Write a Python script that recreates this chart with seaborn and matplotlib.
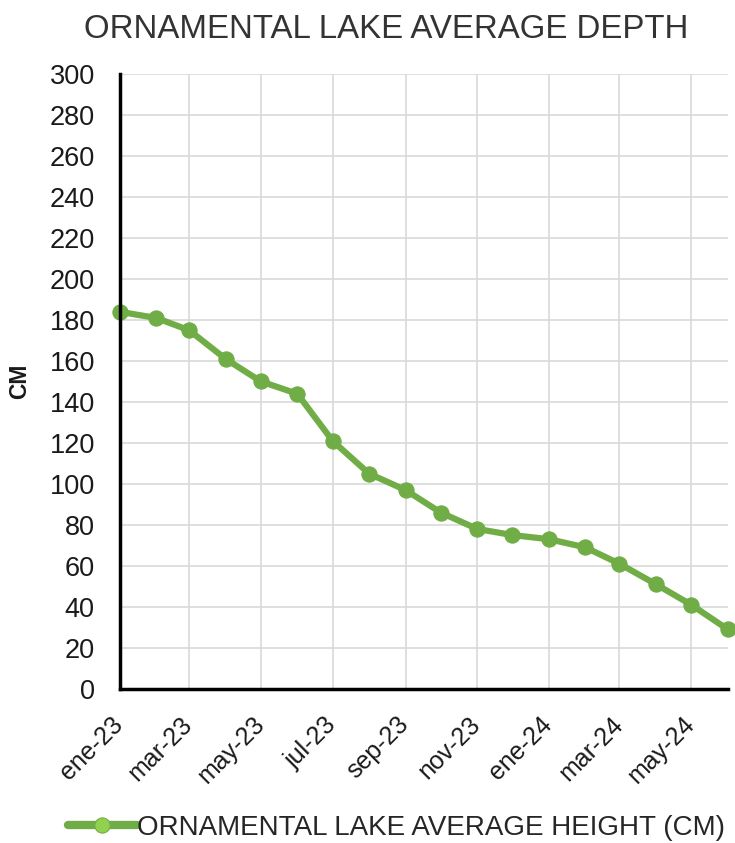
import pandas as pd
import seaborn as sns
import matplotlib.pyplot as plt
import matplotlib.transforms as mtransforms

# monthly readings, ene-23 .. jun-24
months = pd.date_range("2023-01-01", "2024-06-01", freq="MS")
depth_cm = [184, 181, 175, 161, 150, 144, 121, 105, 97, 86,
            78, 75, 73, 69, 61, 51, 41, 29]

tick_dates = pd.date_range("2023-01-01", "2024-05-01", freq="2MS")
tick_labels = ["ene-23", "mar-23", "may-23", "jul-23", "sep-23",
               "nov-23", "ene-24", "mar-24", "may-24"]

df = pd.DataFrame({"month": months, "depth": depth_cm})

sns.set_style("white")
plt.rcParams["font.family"] = ["Liberation Sans", "DejaVu Sans"]

fig = plt.figure(figsize=(7.35, 8.43), dpi=100)
ax = fig.add_axes([0.163, 0.183, 0.827, 0.729])

green = "#70AD47"
sns.lineplot(data=df, x="month", y="depth", color=green, linewidth=4.5,
             marker="o", markersize=11, markeredgecolor=green,
             markerfacecolor=green, clip_on=False, ax=ax,
             label="ORNAMENTAL LAKE AVERAGE HEIGHT (CM)")

ax.set_xlim(months[0], months[-1])
ax.set_ylim(0, 300)
ax.set_yticks(range(0, 301, 20))
ax.set_xticks(tick_dates)
ax.set_xticklabels(tick_labels, rotation=45, ha="right", va="top",
                   rotation_mode="default", fontsize=18, color="#1a1a1a")
ax.tick_params(axis="y", labelsize=19.5, labelcolor="#1a1a1a", pad=12)
ax.tick_params(axis="x", pad=11)
ax.tick_params(direction="inout", length=12, width=2, color="black")

# nudge rotated labels right (after tick_params, which resets transforms)
shift = mtransforms.ScaledTranslation(8 / 100, 0, fig.dpi_scale_trans)
for lbl in ax.get_xticklabels():
    lbl.set_transform(lbl.get_transform() + shift)

ax.grid(True, color="#d9d9d9", linewidth=1.2)
ax.set_axisbelow(True)
for side in ["top", "right"]:
    ax.spines[side].set_visible(False)
for side in ["left", "bottom"]:
    ax.spines[side].set_color("black")
    ax.spines[side].set_linewidth(2.5)

ax.set_xlabel("")
ax.set_ylabel("CM", fontsize=16.5, color="#1a1a1a", fontweight="bold")
ax.yaxis.set_label_coords(-0.146, 0.5)
fig.text(0.525, 0.965, "ORNAMENTAL LAKE AVERAGE DEPTH", fontsize=23.8,
         color="#333333", ha="center", va="center")

# legend marker lighter, like the original
leg = ax.legend(loc="center", bbox_to_anchor=(0.455, -0.226), frameon=False,
                fontsize=20, handlelength=2.5, handletextpad=0.0,
                borderpad=0.2)
for h in leg.legend_handles:
    h.set_markerfacecolor("#92D050")
    h.set_linewidth(6)

fig.savefig("out.png", dpi=100)
